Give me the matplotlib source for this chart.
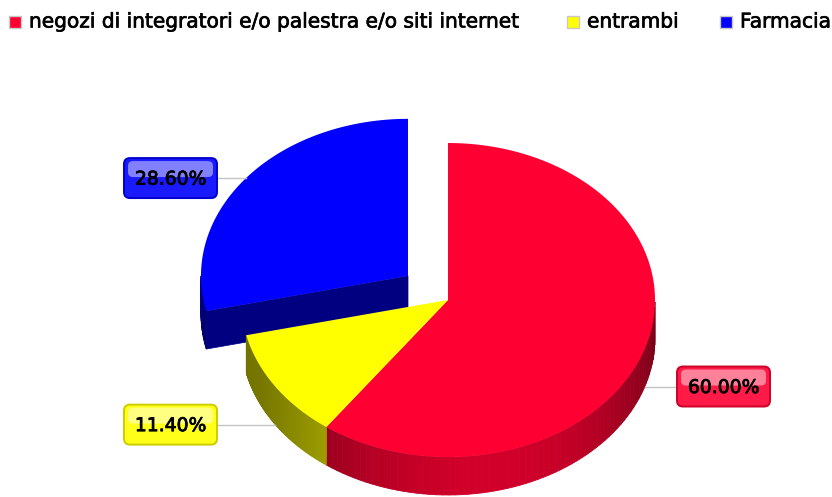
import numpy as np
import matplotlib.pyplot as plt
import matplotlib.patheffects as pe
from matplotlib.patches import Polygon, Rectangle, FancyBboxPatch
from matplotlib.colors import to_rgb

categories = ['negozi di integratori e/o palestra e/o siti internet', 'entrambi', 'Farmacia']
shares = [60.0, 11.4, 28.6]
labels = ['60.00%', '11.40%', '28.60%']
colors = ['#ff0033', '#ffff00', '#0000ff']
explode = [0.0, 0.0, 0.247]

# pie drawn in pixel units: centre, radii of the ellipse and height of the wall
cx, cy = 448, 300
rx, ry = 207, 157
depth = 38

fig = plt.figure(figsize=(8.32, 4.97), dpi=100)
ax = fig.add_axes([0, 0, 1, 1])
ax.set_xlim(0, 832)
ax.set_ylim(497, 0)
ax.axis('off')


def rim(t, ox=0.0, oy=0.0, dz=0.0):
    return cx + ox + rx * np.cos(t), cy + oy - ry * np.sin(t) + dz


def shade(t):
    return 0.45 + 0.37 * np.cos(t + np.radians(78)) ** 2


def mix(c, w):
    c = np.array(to_rgb(c))
    return tuple(c * (1 - w) + w)


# slice angles, clockwise from 12 o'clock
ends = 90 - np.cumsum(shares) * 3.6
starts = np.r_[90, ends[:-1]]
slices = []
for i in range(len(shares)):
    a0, a1 = np.radians(starts[i]), np.radians(ends[i])
    mid = (a0 + a1) / 2
    ox = explode[i] * rx * np.cos(mid)
    oy = -explode[i] * ry * np.sin(mid)
    slices.append((a0, a1, mid, ox, oy))

# walls first, back to front
order = sorted(range(len(shares)), key=lambda i: -np.sin(slices[i][2]))
for i in order:
    a0, a1, mid, ox, oy = slices[i]
    base = np.array(to_rgb(colors[i]))
    # radial cut faces, only seen on a pulled-out slice
    if explode[i] > 0:
        for a, seen in ((a0, np.cos(a0) < 0), (a1, np.cos(a1) > 0)):
            if seen:
                x, y = rim(a, ox, oy)
                pts = [(cx + ox, cy + oy), (x, y), (x, y + depth), (cx + ox, cy + oy + depth)]
                ax.add_patch(Polygon(pts, closed=True, fc=base * 0.5, ec=base * 0.5, lw=0.5, zorder=1))
    ts = np.linspace(a0, a1, 120)
    for t1, t2 in zip(ts[:-1], ts[1:]):
        tm = (t1 + t2) / 2
        if np.sin(tm) >= 0:
            continue
        x1, y1 = rim(t1, ox, oy)
        x2, y2 = rim(t2, ox, oy)
        c = base * shade(tm)
        ax.add_patch(Polygon([(x1, y1), (x2, y2), (x2, y2 + depth), (x1, y1 + depth)],
                             closed=True, fc=c, ec=c, lw=0.6, zorder=1))

# top faces
for i, (a0, a1, mid, ox, oy) in enumerate(slices):
    ts = np.linspace(a0, a1, 200)
    xs, ys = rim(ts, ox, oy)
    pts = np.column_stack([np.r_[cx + ox, xs], np.r_[cy + oy, ys]])
    ax.add_patch(Polygon(pts, closed=True, fc=colors[i], ec='none', zorder=2))

# value labels with leader lines
for i, (a0, a1, mid, ox, oy) in enumerate(slices):
    x, y = rim(mid, ox, oy, depth if np.sin(mid) < 0 else 0)
    w, h = 93, 40
    if np.cos(mid) < 0:
        bx = 217 - w
        ax.plot([bx + w, x], [y, y], color='#c4c4c4', lw=1, zorder=3)
    else:
        bx = 677
        ax.plot([x, bx], [y, y], color='#c4c4c4', lw=1, zorder=3)
    by = y - h / 2
    ax.add_patch(FancyBboxPatch((bx, by), w, h, boxstyle='round,pad=0,rounding_size=6',
                                fc=mix(colors[i], 0.1), ec=np.array(to_rgb(colors[i])) * 0.8,
                                lw=1.4, zorder=4))
    ax.add_patch(FancyBboxPatch((bx + 4, by + 3), w - 8, h * 0.4, boxstyle='round,pad=0,rounding_size=5',
                                fc='white', ec='none', alpha=0.45, zorder=5))
    ax.text(bx + w / 2, y + 1, labels[i], ha='center', va='center', fontsize=13.5,
            color='black', zorder=6,
            path_effects=[pe.withStroke(linewidth=0.6, foreground='black')])

# legend row
legend_x = [9, 567, 720]
for i, name in enumerate(categories):
    ax.add_patch(Rectangle((legend_x[i], 16), 12, 12, fc=colors[i], ec='#c8c8c8', lw=1, zorder=3))
    ax.text(legend_x[i] + 20, 22, name, ha='left', va='center', fontsize=14.5, color='black',
            path_effects=[pe.withStroke(linewidth=0.5, foreground='black')])

fig.savefig('out.png', dpi=100, facecolor='white')
